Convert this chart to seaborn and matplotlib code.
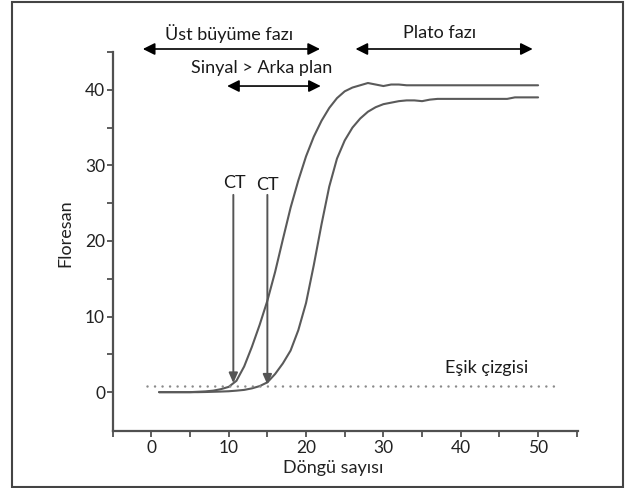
import numpy as np
import pandas as pd
import matplotlib
matplotlib.use("Agg")
import matplotlib.pyplot as plt
import matplotlib.patches as mpatches
import seaborn as sns

# ---- data ----
cycles = list(range(1, 51))
sample_a = [0.0, 0.0, 0.0, 0.0, 0.0, 0.05, 0.1, 0.2, 0.4, 0.7,
            1.5, 3.4, 6.0, 8.9, 12.1, 15.9, 20.2, 24.4, 28.0, 31.2,
            33.8, 35.9, 37.6, 38.9, 39.8, 40.3, 40.6, 40.9, 40.7, 40.5,
            40.7, 40.7, 40.6, 40.6, 40.6, 40.6, 40.6, 40.6, 40.6, 40.6,
            40.6, 40.6, 40.6, 40.6, 40.6, 40.6, 40.6, 40.6, 40.6, 40.6]
sample_b = [0.0, 0.0, 0.0, 0.0, 0.0, 0.0, 0.02, 0.05, 0.08, 0.12,
            0.2, 0.3, 0.5, 0.8, 1.3, 2.4, 3.8, 5.5, 8.2, 11.8,
            16.8, 22.2, 27.2, 30.9, 33.3, 35.0, 36.2, 37.1, 37.7, 38.1,
            38.3, 38.5, 38.6, 38.6, 38.5, 38.7, 38.8, 38.8, 38.8, 38.8,
            38.8, 38.8, 38.8, 38.8, 38.8, 38.8, 39.0, 39.0, 39.0, 39.0]
threshold = 0.88
threshold_span = [-0.5, 52]
ct_values = [10.6, 15.0]
x_major = [0, 10, 20, 30, 40, 50]
x_minor = [-5, 5, 15, 25, 35, 45, 55]
y_major = [0, 10, 20, 30, 40]
y_minor = [5, 15, 25, 35, 45]

df = pd.DataFrame({
    "Döngü sayısı": cycles + cycles,
    "Floresan": sample_a + sample_b,
    "örnek": ["A"] * len(cycles) + ["B"] * len(cycles),
})

sns.set_theme(style="ticks")
plt.rcParams["font.family"] = ["Lato", "DejaVu Sans"]

fig = plt.figure(figsize=(6.33, 4.88), dpi=100)
ax = fig.add_axes([0.178, 0.1174, 0.9136 - 0.178, 0.8934 - 0.1174])

line_col = "#5a5a5a"
sns.lineplot(data=df, x="Döngü sayısı", y="Floresan", hue="örnek",
             palette=[line_col, line_col], legend=False, lw=1.5, ax=ax)

ax.plot(threshold_span, [threshold, threshold], ls=(0, (0.01, 3.0)), lw=1.8,
        color="#8a8a8a", dash_capstyle="round")

ax.set_xlim(-5, 55.2)
ax.set_ylim(-5.1, 45)
ax.set_xticks(x_major)
ax.set_xticks(x_minor, minor=True)
ax.set_yticks(y_major)
ax.set_yticks(y_minor, minor=True)
for s in ["top", "right"]:
    ax.spines[s].set_visible(False)
for s in ["left", "bottom"]:
    ax.spines[s].set_color("#505050")
    ax.spines[s].set_linewidth(1.6)
ax.tick_params(which="both", direction="out", length=4, width=1.3,
               color="#505050", labelsize=12.5, labelcolor="#222222", pad=1.5)
ax.tick_params(axis="x", which="both", pad=2.5)

ax.set_xlabel("Döngü sayısı", fontsize=13, color="#222222", va="center")
ax.xaxis.set_label_coords(0.473, -0.0985)
ax.set_ylabel("Floresan", fontsize=13, color="#222222", va="center")
ax.yaxis.set_label_coords(-0.1025, 0.522)

txt_kw = dict(fontsize=13, color="#1a1a1a", ha="center", va="center",
              clip_on=False)
arr_kw = dict(arrowstyle="<|-|>,head_length=0.6,head_width=0.3",
              color="black", lw=1.2, shrinkA=0, shrinkB=0)

# phase annotations
ax.annotate("", xy=(21.8, 45.4), xytext=(-1.1, 45.4),
            arrowprops=arr_kw, annotation_clip=False)
ax.text(10.1, 47.5, "Üst büyüme fazı", **txt_kw)
ax.annotate("", xy=(21.9, 40.5), xytext=(9.8, 40.5),
            arrowprops=arr_kw, annotation_clip=False)
ax.text(14.3, 42.9, "Sinyal > Arka plan", **txt_kw)
ax.annotate("", xy=(49.3, 45.4), xytext=(26.4, 45.4),
            arrowprops=arr_kw, annotation_clip=False)
ax.text(37.3, 47.5, "Plato fazı", **txt_kw)

# CT arrows
ct_kw = dict(arrowstyle="-|>,head_length=0.5,head_width=0.22",
             color="#555555", lw=1.4, shrinkA=0, shrinkB=0)
for ct, tip in zip(ct_values, [1.2, 1.0]):
    ax.annotate("", xy=(ct, tip), xytext=(ct, 26.1), arrowprops=ct_kw)
ax.text(10.8, 27.7, "CT", **txt_kw)
ax.text(15.0, 27.4, "CT", **txt_kw)

ax.text(43.4, 3.2, "Eşik çizgisi", **txt_kw)

# outer frame
fig.patches.append(mpatches.Rectangle((12 / 633, 1 - 487 / 488), (623 - 12) / 633,
                                      (487 - 2) / 488, transform=fig.transFigure,
                                      fill=False, lw=1.5, ec="#444444"))

fig.savefig("out.png", dpi=100)
